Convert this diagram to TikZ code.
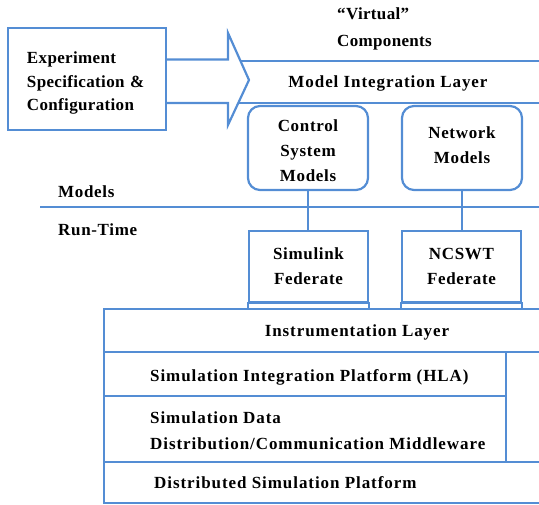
\documentclass[tikz,border=0pt]{standalone}
\usepackage{fontspec}
\setmainfont[LetterSpace=4]{Liberation Serif}
\definecolor{lblue}{RGB}{84,141,212}
\begin{document}
\begin{tikzpicture}[x=1pt,y=-1pt,
  ln/.style={draw=lblue, line width=2.2pt},
  box/.style={draw=lblue, line width=2.2pt, rectangle, inner sep=0pt},
  rbox/.style={box, rounded corners=12pt},
  txt/.style={font=\fontsize{17}{25}\selectfont\bfseries, inner sep=0pt},
  wtxt/.style={font=\fontsize{17}{26}\selectfont\bfseries\addfontfeatures{LetterSpace=5.5}, inner sep=0pt}]
\useasboundingbox (0,0) rectangle (539,505);
\clip (0,0) rectangle (539,505);

% experiment box
\node[box, txt, font=\fontsize{17}{24}\selectfont\bfseries\addfontfeatures{LetterSpace=2}, minimum width=158, minimum height=102, text width=120, align=left]
  (exp) at (87,79) {\strut\raisebox{-2pt}{Experiment}\\\raisebox{-2pt}{Specification \&}\\\raisebox{-1pt}{Configuration}};

% big arrow
\coordinate (a1) at (exp.east |- 0,59.5);
\coordinate (a2) at (exp.east |- 0,103);
\draw[ln, line join=miter] (a1) -- (228,59.5) -- (228,33) -- (249,80) -- (228,125) -- (228,103) -- (a2);

% model integration band
\draw[ln] (240.5,61) -- (545,61);
\draw[ln] (238,103) -- (545,103);
\node[wtxt] (mil) at (388,83) {Model Integration Layer};
\node[txt, font=\fontsize{17}{27}\selectfont\bfseries\addfontfeatures{LetterSpace=2}, align=left, anchor=west] (virt) at (337,29) {“Virtual”\\Components};

% model boxes
\node[rbox, minimum width=120, minimum height=84] (csm) at (308,148) {};
\node[rbox, minimum width=120, minimum height=84] (nm) at (462,148) {};
\node[txt, align=center] (csmt) at ([yshift=-2.5pt]csm.center) {Control\\System\\Models};
\node[txt, align=center] (nmt) at ([yshift=3pt]nm.center) {Network\\Models};

% models / run-time separator
\draw[ln, line width=2.6pt] (40,207) -- (545,207);
\node[txt, anchor=west] (models) at (58,192) {Models};
\node[txt, anchor=west] (rt) at (58,230) {Run-Time};

% federates
\node[box, txt, minimum width=119, minimum height=71, align=center] (sim) at (308.5,266.5) {Simulink\\Federate};
\node[box, txt, minimum width=119, minimum height=71, align=center] (ncs) at (461.5,266.5) {\raisebox{-1.5pt}{NCSWT}\\\raisebox{-1.5pt}{Federate}};
\draw[ln] (sim.south west) rectangle ([yshift=-6pt]sim.south east);
\draw[ln] (ncs.south west) rectangle ([yshift=-6pt]ncs.south east);

% connectors
\draw[ln] (csm.south) -- (csm.south |- sim.north);
\draw[ln] (nm.south) -- (nm.south |- ncs.north);

% layered platform
\draw[ln] (104,309) rectangle (560,503);
\draw[ln] (104,352) -- (560,352);
\draw[ln] (104,396) -- (506,396);
\draw[ln] (104,462) -- (560,462);
\draw[ln] (506,352) -- (506,462);
\node[wtxt] (inst) at (357,332) {Instrumentation Layer};
\node[wtxt, anchor=west] (hla) at (150,377) {Simulation Integration Platform (HLA)};
\node[wtxt, anchor=west, align=left] (mw) at (150,431) {Simulation Data\\Distribution/Communication Middleware};
\node[wtxt, anchor=west] (dsp) at (154,483) {Distributed Simulation Platform};
\end{tikzpicture}
\end{document}
